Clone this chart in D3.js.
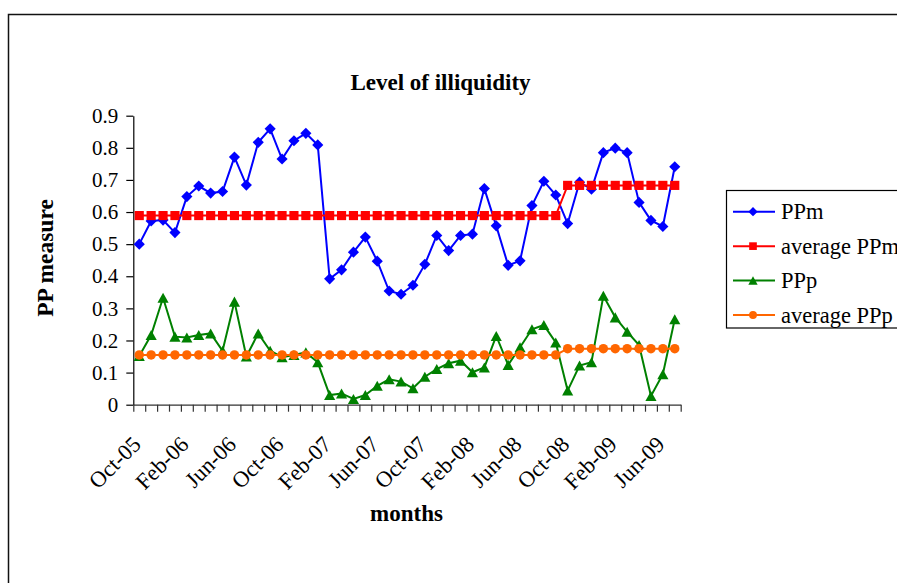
<!DOCTYPE html>
<html>
<head>
<meta charset="utf-8">
<script src="https://cdn.jsdelivr.net/npm/d3@7"></script>
<style>
  html, body { margin: 0; padding: 0; background: #fff; }
  svg { display: block; }
  text { font-family: "Liberation Serif", "Times New Roman", serif; fill: #000; }
</style>
</head>
<body>
<svg id="chart" width="897" height="583"></svg>
<script>
// Monthly categories, Oct-05 .. Jul-09
const months = [
  "Oct-05","Nov-05","Dec-05","Jan-06","Feb-06","Mar-06","Apr-06","May-06","Jun-06","Jul-06",
  "Aug-06","Sep-06","Oct-06","Nov-06","Dec-06","Jan-07","Feb-07","Mar-07","Apr-07","May-07",
  "Jun-07","Jul-07","Aug-07","Sep-07","Oct-07","Nov-07","Dec-07","Jan-08","Feb-08","Mar-08",
  "Apr-08","May-08","Jun-08","Jul-08","Aug-08","Sep-08","Oct-08","Nov-08","Dec-08","Jan-09",
  "Feb-09","Mar-09","Apr-09","May-09","Jun-09","Jul-09"
];

// Labelled months on the category axis
const monthLabels = ["Oct-05","Feb-06","Jun-06","Oct-06","Feb-07","Jun-07","Oct-07","Feb-08","Jun-08","Oct-08","Feb-09","Jun-09"];

// Value axis ticks
const yTicks = [0, 0.1, 0.2, 0.3, 0.4, 0.5, 0.6, 0.7, 0.8, 0.9];

const PPm = [
  0.500, 0.572, 0.575, 0.536, 0.648, 0.681, 0.659, 0.664, 0.771, 0.684,
  0.817, 0.859, 0.765, 0.822, 0.845, 0.809, 0.392, 0.420, 0.475, 0.522,
  0.447, 0.354, 0.344, 0.372, 0.437, 0.527, 0.480, 0.527, 0.531, 0.673,
  0.557, 0.434, 0.448, 0.620, 0.696, 0.653, 0.564, 0.693, 0.671, 0.785,
  0.799, 0.785, 0.630, 0.574, 0.555, 0.741
];

const avgPPm = [
  0.589, 0.589, 0.589, 0.589, 0.589, 0.589, 0.589, 0.589, 0.589, 0.589,
  0.589, 0.589, 0.589, 0.589, 0.589, 0.589, 0.589, 0.589, 0.589, 0.589,
  0.589, 0.589, 0.589, 0.589, 0.589, 0.589, 0.589, 0.589, 0.589, 0.589,
  0.589, 0.589, 0.589, 0.589, 0.589, 0.589, 0.683, 0.683, 0.683, 0.683,
  0.683, 0.683, 0.683, 0.683, 0.683, 0.683
];

const PPp = [
  0.152, 0.217, 0.333, 0.212, 0.209, 0.217, 0.222, 0.168, 0.321, 0.150,
  0.222, 0.168, 0.148, 0.155, 0.163, 0.132, 0.030, 0.035, 0.018, 0.030,
  0.059, 0.079, 0.072, 0.051, 0.087, 0.111, 0.129, 0.137, 0.101, 0.116,
  0.214, 0.124, 0.179, 0.235, 0.248, 0.194, 0.044, 0.122, 0.132, 0.339,
  0.272, 0.227, 0.186, 0.027, 0.095, 0.266
];

const avgPPp = [
  0.155, 0.155, 0.155, 0.155, 0.155, 0.155, 0.155, 0.155, 0.155, 0.155,
  0.155, 0.155, 0.155, 0.155, 0.155, 0.155, 0.155, 0.155, 0.155, 0.155,
  0.155, 0.155, 0.155, 0.155, 0.155, 0.155, 0.155, 0.155, 0.155, 0.155,
  0.155, 0.155, 0.155, 0.155, 0.155, 0.155, 0.1745, 0.1745, 0.1745, 0.1745,
  0.1745, 0.1745, 0.1745, 0.1745, 0.1745, 0.1745
];

const seriesNames = ["PPm", "average PPm", "PPp", "average PPp"];
const seriesColors = ["#0000FF", "#FF0000", "#008000", "#FF6600"];

// Marker shapes: square turned 45°, and a triangle centred on its bounding box
const symDiamond = {
  draw(ctx, size) {
    const r = Math.sqrt(size / 2);
    ctx.moveTo(0, -r); ctx.lineTo(r, 0); ctx.lineTo(0, r); ctx.lineTo(-r, 0); ctx.closePath();
  }
};
const symTriangle = {
  draw(ctx, size) {
    const w = Math.sqrt(size * 2 / 0.9), h = w * 0.9;
    ctx.moveTo(0, -h / 2); ctx.lineTo(w / 2, h / 2); ctx.lineTo(-w / 2, h / 2); ctx.closePath();
  }
};

const series = [
  { name: seriesNames[0], values: PPm,    color: seriesColors[0], symbol: symDiamond,      size: 62 },
  { name: seriesNames[1], values: avgPPm, color: seriesColors[1], symbol: d3.symbolSquare, size: 84 },
  { name: seriesNames[2], values: PPp,    color: seriesColors[2], symbol: symTriangle,     size: 56 },
  { name: seriesNames[3], values: avgPPp, color: seriesColors[3], symbol: d3.symbolCircle, size: 70 }
];

const svg = d3.select("#chart");
svg.append("rect").attr("width", 897).attr("height", 583).attr("fill", "#fff");

// Outer chart frame
svg.append("rect")
  .attr("x", 8.5).attr("y", 14.5)
  .attr("width", 1000).attr("height", 1000)
  .attr("fill", "none").attr("stroke", "#111").attr("stroke-width", 1.5);

const plot = { left: 133.3, right: 680.7, top: 115.7, bottom: 404.7 };

const x = d3.scaleBand().domain(months).range([plot.left, plot.right]).padding(0);
const xEdge = d3.scaleLinear().domain([0, months.length]).range([plot.left, plot.right]);
const y = d3.scaleLinear().domain([0, 0.9]).range([plot.bottom, plot.top]);
const cx = m => x(m) + x.bandwidth() / 2;

// Value axis
const yAxis = svg.append("g")
  .attr("transform", `translate(${plot.left},0)`)
  .call(d3.axisLeft(y).tickValues(yTicks).tickSizeInner(7).tickSizeOuter(0).tickPadding(8)
    .tickFormat(d => d === 0 ? "0" : d3.format(".1f")(d)));
yAxis.selectAll("text").style("font-size", "21px");
yAxis.select(".domain").attr("stroke", "#000").attr("stroke-width", 1.2);
yAxis.selectAll(".tick line").attr("stroke", "#000").attr("stroke-width", 1.2);

// Category axis: tick marks on category boundaries
const xAxis = svg.append("g")
  .attr("transform", `translate(0,${plot.bottom})`)
  .call(d3.axisBottom(xEdge).tickValues(d3.range(months.length + 1)).tickSizeInner(7).tickSizeOuter(0).tickFormat(""));
xAxis.select(".domain").attr("stroke", "#333").attr("stroke-width", 1.2);
xAxis.selectAll(".tick line").attr("stroke", "#333").attr("stroke-width", 1.2);

// Rotated month labels
svg.append("g").selectAll("text")
  .data(monthLabels)
  .join("text")
  .attr("text-anchor", "end")
  .attr("transform", d => `translate(${cx(d) + 3},${plot.bottom + 41}) rotate(-45)`)
  .style("font-size", "22.5px")
  .text(d => d);

// Series lines and markers
const line = d3.line().x((d, i) => cx(months[i])).y(d => y(d));
series.forEach(s => {
  const g = svg.append("g");
  g.append("path")
    .attr("d", line(s.values))
    .attr("fill", "none")
    .attr("stroke", s.color)
    .attr("stroke-width", 2);
  g.selectAll("path.mk")
    .data(s.values)
    .join("path")
    .attr("class", "mk")
    .attr("transform", (d, i) => `translate(${cx(months[i])},${y(d)})`)
    .attr("d", d3.symbol(s.symbol, s.size))
    .attr("fill", s.color);
});

// Title and axis titles
svg.append("text")
  .attr("x", 440.5).attr("y", 90)
  .attr("text-anchor", "middle")
  .style("font-size", "23px").style("font-weight", "bold")
  .text("Level of illiquidity");

svg.append("text")
  .attr("x", 406.5).attr("y", 521)
  .attr("text-anchor", "middle")
  .style("font-size", "23px").style("font-weight", "bold")
  .text("months");

svg.append("text")
  .attr("transform", "translate(53,258) rotate(-90)")
  .attr("text-anchor", "middle")
  .style("font-size", "23.5px").style("font-weight", "bold")
  .text("PP measure");

// Legend
const legend = svg.append("g");
legend.append("rect")
  .attr("x", 726.5).attr("y", 190.5)
  .attr("width", 300).attr("height", 137.5)
  .attr("fill", "#fff").attr("stroke", "#000").attr("stroke-width", 1.2);
const rowY = d3.scalePoint().domain(seriesNames).range([211.7, 315]);
series.forEach(s => {
  const yy = rowY(s.name);
  legend.append("line")
    .attr("x1", 733).attr("x2", 775).attr("y1", yy).attr("y2", yy)
    .attr("stroke", s.color).attr("stroke-width", 2);
  legend.append("path")
    .attr("transform", `translate(753,${yy})`)
    .attr("d", d3.symbol(s.symbol, s.size * 0.7))
    .attr("fill", s.color);
  legend.append("text")
    .attr("x", 781).attr("y", yy + 7.5)
    .style("font-size", "22.5px")
    .text(s.name);
});
</script>
</body>
</html>
